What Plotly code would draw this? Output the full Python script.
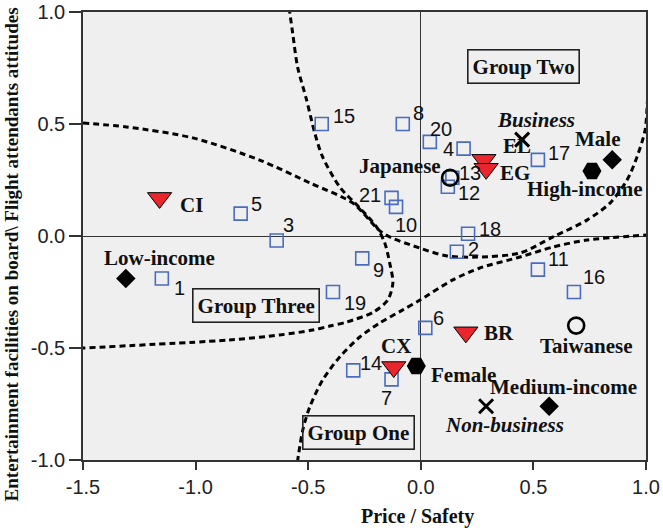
import plotly.graph_objects as go

# ---------------- data ----------------
attr_ids = [str(i) for i in range(1, 22)]
attr_x = [-1.15, 0.16, -0.64, 0.19, -0.80, 0.02, -0.13, -0.08, -0.26, -0.11, 0.52,
          0.12, 0.14, -0.30, -0.44, 0.68, 0.52, 0.21, -0.39, 0.04, -0.13]
attr_y = [-0.19, -0.07, -0.02, 0.39, 0.10, -0.41, -0.64, 0.50, -0.10, 0.13, -0.15,
          0.22, 0.26, -0.60, 0.50, -0.25, 0.34, 0.01, -0.25, 0.42, 0.17]

airline_names = ["CI", "EL", "EG", "BR", "CX"]
airline_x = [-1.16, 0.28, 0.29, 0.20, -0.12]
airline_y = [0.17, 0.34, 0.30, -0.43, -0.585]

income_names = ["Low-income", "Male", "Medium-income"]
income_x = [-1.31, 0.85, 0.57]
income_y = [-0.19, 0.34, -0.76]

hex_names = ["High-income", "Female"]
hex_x = [0.76, -0.02]
hex_y = [0.29, -0.58]

nation_names = ["Japanese", "Taiwanese"]
nation_x = [0.13, 0.69]
nation_y = [0.26, -0.40]

purpose_names = ["Business", "Non-business"]
purpose_x = [0.45, 0.29]
purpose_y = [0.43, -0.76]

group_names = ["Group One", "Group Two", "Group Three"]
group_x = [-0.276, 0.458, -0.731]
group_y = [-0.879, 0.757, -0.312]

# boundary curves (hand-drawn dashed lines)
curve_a_x = [-0.585, -0.569, -0.547, -0.507, -0.471, -0.436, -0.36, -0.271, -0.196,
             -0.16, -0.138, -0.124, -0.147, -0.209, -0.329, -0.404, -0.48, -0.627, -0.849, -1.5]
curve_a_y = [1.02, 0.906, 0.754, 0.607, 0.46, 0.353, 0.219, 0.125, 0.04,
             -0.031, -0.121, -0.210, -0.286, -0.339, -0.384, -0.402, -0.42, -0.442, -0.464, -0.5]
curve_b_x = [-1.5, -1.307, -1.013, -0.716, -0.493, -0.302, -0.169, -0.004, 0.116, 0.249,
             0.44, 0.587, 0.738, 0.84, 0.916, 0.96, 0.996, 1.006]
curve_b_y = [0.504, 0.487, 0.438, 0.339, 0.237, 0.147, 0.013, -0.054, -0.089, -0.094,
             -0.076, -0.004, 0.071, 0.147, 0.25, 0.353, 0.473, 0.60]
curve_c_x = [-0.548, -0.524, -0.493, -0.436, -0.36, -0.271, -0.182, -0.08, -0.004,
             0.142, 0.262, 0.44, 0.587, 0.738, 1.0]
curve_c_y = [-1.01, -0.866, -0.763, -0.643, -0.54, -0.451, -0.388, -0.33, -0.286,
             -0.196, -0.143, -0.094, -0.049, -0.018, 0.004]

x_ticks = [-1.5, -1.0, -0.5, 0.0, 0.5, 1.0]
y_ticks = [-1.0, -0.5, 0.0, 0.5, 1.0]

x_title = "Price / Safety"
y_title = "Entertainment facilities on board\\ Flight attendants attitudes"

# ---------------- label placement (xanchor, xshift px, yshift px) ----------------
num_offsets = {
    "1": ("left", 10, -9), "2": ("left", 9, 3), "3": ("left", 4, 15), "4": ("right", -8, 0),
    "5": ("left", 8, 10), "6": ("left", 6, 10), "7": ("center", -5, -19), "8": ("left", 8, 11),
    "9": ("left", 9, -12), "10": ("left", -3, -18), "11": ("left", 8, 11), "12": ("left", 8, -6),
    "13": ("left", 5, 5), "14": ("left", 5, 7), "15": ("left", 9, 8), "16": ("left", 7, 15),
    "17": ("left", 8, 7), "18": ("left", 9, 5), "19": ("left", 9, -11), "20": ("left", -2, 13),
    "21": ("right", -9, 3),
}
cat_offsets = {
    "CI": ("left", 18, -7), "EL": ("left", 17, 14), "EG": ("left", 12, -4),
    "BR": ("left", 16, -1), "CX": ("center", 2, 21),
    "Low-income": ("center", 34, 21), "Male": ("center", -15, 21),
    "Medium-income": ("center", 14, 19),
    "High-income": ("center", -7, -18), "Female": ("left", 13, -9),
    "Japanese": ("right", -7, 12), "Taiwanese": ("center", 10, -20),
    "Business": ("center", 14, 20), "Non-business": ("center", 18, -19),
}
italic_labels = {"Business", "Non-business"}

SERIF = "Liberation Serif, Times New Roman, serif"
SANS = "Liberation Sans, Arial, sans-serif"
INK = "#111111"
AX = "#333333"

fig = go.Figure()

dash_line = dict(color="black", width=3, dash="6px,4px", shape="spline", smoothing=0.8)
for cx, cy in [(curve_a_x, curve_a_y), (curve_b_x, curve_b_y), (curve_c_x, curve_c_y)]:
    fig.add_trace(go.Scatter(x=cx, y=cy, mode="lines", line=dash_line,
                             hoverinfo="skip", showlegend=False))

fig.add_trace(go.Scatter(x=attr_x, y=attr_y, mode="markers", showlegend=False,
                         marker=dict(symbol="square-open", size=13,
                                     color="#4a6cc0", line=dict(width=1.6, color="#4a6cc0"))))
fig.add_trace(go.Scatter(x=airline_x, y=airline_y, mode="markers", showlegend=False,
                         marker=dict(symbol="triangle-down", size=21, color="#e8262b",
                                     line=dict(width=1, color="black"))))
fig.add_trace(go.Scatter(x=income_x, y=income_y, mode="markers", showlegend=False,
                         marker=dict(symbol="diamond", size=15, color="black",
                                     line=dict(width=0))))
fig.add_trace(go.Scatter(x=hex_x, y=hex_y, mode="markers", showlegend=False,
                         marker=dict(symbol="hexagon2", size=19, color="black",
                                     line=dict(width=0))))
fig.add_trace(go.Scatter(x=nation_x, y=nation_y, mode="markers", showlegend=False,
                         marker=dict(symbol="circle-open", size=16, color="black",
                                     line=dict(width=2.6, color="black"))))
fig.add_trace(go.Scatter(x=purpose_x, y=purpose_y, mode="markers", showlegend=False,
                         marker=dict(symbol="x-thin-open", size=14, color="black",
                                     line=dict(width=3, color="black"))))

annotations = []
for name, x, y in zip(attr_ids, attr_x, attr_y):
    xa, dx, dy = num_offsets[name]
    annotations.append(dict(x=x, y=y, text=name, showarrow=False, xanchor=xa,
                            yanchor="middle", xshift=dx, yshift=dy,
                            font=dict(family=SANS, size=20, color=INK)))

cat_points = (list(zip(airline_names, airline_x, airline_y)) +
              list(zip(income_names, income_x, income_y)) +
              list(zip(hex_names, hex_x, hex_y)) +
              list(zip(nation_names, nation_x, nation_y)) +
              list(zip(purpose_names, purpose_x, purpose_y)))
for name, x, y in cat_points:
    xa, dx, dy = cat_offsets[name]
    txt = f"<b>{name}</b>"
    if name in italic_labels:
        txt = f"<b><i>{name}</i></b>"
    annotations.append(dict(x=x, y=y, text=txt, showarrow=False, xanchor=xa,
                            yanchor="middle", xshift=dx, yshift=dy,
                            font=dict(family=SERIF, size=21, color=INK)))

for name, x, y in zip(group_names, group_x, group_y):
    annotations.append(dict(x=x, y=y, text=f"<b>{name}</b>", showarrow=False,
                            xanchor="center", yanchor="middle",
                            bordercolor="#222", borderwidth=1.6, borderpad=4,
                            font=dict(family=SERIF, size=21, color=INK)))

annotations.append(dict(xref="paper", yref="paper", x=0.595, y=-0.127,
                        text=f"<b>{x_title}</b>", showarrow=False,
                        xanchor="center", yanchor="middle",
                        font=dict(family=SERIF, size=20, color=INK)))
annotations.append(dict(xref="paper", yref="paper", x=-0.127, y=0.46,
                        text=f"<b>{y_title}</b>", showarrow=False, textangle=-90,
                        xanchor="center", yanchor="middle",
                        font=dict(family=SERIF, size=19, color=INK)))

axis_common = dict(showgrid=False, zeroline=True, zerolinecolor=AX, zerolinewidth=1.3,
                   showline=True, linecolor=AX, linewidth=1.5, mirror=True,
                   ticks="outside", tickwidth=1.5, tickcolor=AX, automargin=False,
                   tickfont=dict(family=SANS, size=20, color="#222"))

fig.update_layout(
    template="none",
    width=663, height=530,
    margin=dict(l=83, r=17, t=12, b=70, pad=0, autoexpand=False),
    paper_bgcolor="white", plot_bgcolor="#efefef",
    xaxis=dict(range=[-1.5, 1.0], tickvals=x_ticks,
               ticktext=[f"{v:.1f}" for v in x_ticks], ticklen=8, **axis_common),
    yaxis=dict(range=[-1.0, 1.0], tickvals=y_ticks,
               ticktext=[f"{v:.1f}" for v in y_ticks], ticklen=12, **axis_common),
    annotations=annotations,
    showlegend=False,
)

fig.write_html("out.html",
               config={"displayModeBar": False},
               post_script="document.body.style.margin='0';document.body.style.overflow='hidden';")
